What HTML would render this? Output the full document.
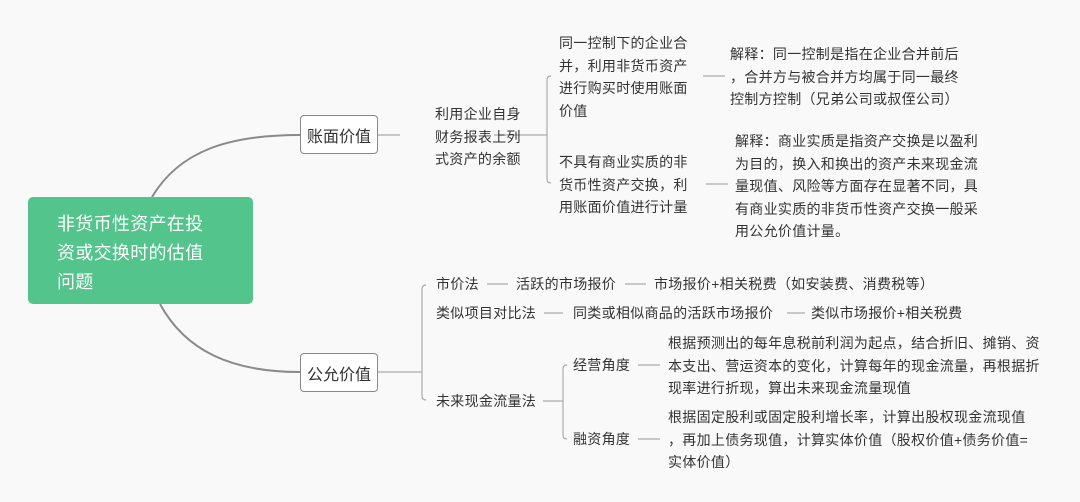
<!DOCTYPE html>
<html><head><meta charset="utf-8"><style>
html,body{margin:0;padding:0;background:#f9f9f9;}
#c{position:relative;width:1080px;height:502px;overflow:hidden;font-family:"Liberation Sans","Noto Sans CJK SC",sans-serif;color:#333;}
.t{position:absolute;font-size:14px;letter-spacing:0.3px;line-height:22.5px;white-space:nowrap;}
.box{position:absolute;background:#fff;border:1px solid #888;border-radius:4px;font-size:16px;display:flex;align-items:center;justify-content:center;box-sizing:border-box;}
svg{position:absolute;left:0;top:0;}
</style></head><body><div id="c">
<svg width="1080" height="502" fill="none">
<path d="M152 197 C 180 150, 230 135, 300 135" stroke="#8a8a8a" stroke-width="2"/>
<path d="M160 304 C 185 350, 230 372, 300 372" stroke="#8a8a8a" stroke-width="2"/>
<g stroke="#aaa" stroke-width="1.2">
<line x1="378" y1="135" x2="400" y2="135"/>
<line x1="494" y1="135" x2="547" y2="135"/>
<path d="M551 76 Q547 76 547 80 L547 179 Q547 183 551 183"/>
<line x1="703" y1="76" x2="725" y2="76"/>
<line x1="706" y1="184" x2="728" y2="184"/>
<line x1="378" y1="372" x2="422" y2="372"/>
<path d="M426 285 Q422 285 422 289 L422 396 Q422 400 426 400"/>
<line x1="487" y1="284" x2="508" y2="284"/>
<line x1="625" y1="284" x2="646" y2="284"/>
<line x1="544" y1="313" x2="563" y2="313"/>
<line x1="787" y1="313" x2="805" y2="313"/>
<line x1="543" y1="401" x2="563" y2="401"/>
<path d="M567 365 Q563 365 563 369 L563 435 Q563 439 567 439"/>
<line x1="638" y1="365" x2="660" y2="365"/>
<line x1="638" y1="439" x2="660" y2="439"/>
</g></svg>
<div style="position:absolute;left:28px;top:197px;width:225px;height:107px;background:#52c48c;border-radius:5px;"></div>
<div class="t" style="left:57px;top:210px;color:#fff;font-size:18px;line-height:29px;letter-spacing:0.3px;">非货币性资产在投<br>资或交换时的估值<br>问题</div>
<div class="box" style="left:300px;top:115px;width:78px;height:39px;">账面价值</div>
<div class="box" style="left:300px;top:353px;width:78px;height:39px;">公允价值</div>
<div class="t" style="left:435px;top:103px;">利用企业自身<br>财务报表上列<br>式资产的余额</div>
<div class="t" style="left:559px;top:32px;">同一控制下的企业合<br>并，利用非货币资产<br>进行购买时使用账面<br>价值</div>
<div class="t" style="left:730px;top:43px;">解释：同一控制是指在企业合并前后<br>，合并方与被合并方均属于同一最终<br>控制方控制（兄弟公司或叔侄公司）</div>
<div class="t" style="left:559px;top:151px;">不具有商业实质的非<br>货币性资产交换，利<br>用账面价值进行计量</div>
<div class="t" style="left:735px;top:130px;">解释：商业实质是指资产交换是以盈利<br>为目的，换入和换出的资产未来现金流<br>量现值、风险等方面存在显著不同，具<br>有商业实质的非货币性资产交换一般采<br>用公允价值计量。</div>
<div class="t" style="left:436px;top:273px;">市价法</div>
<div class="t" style="left:516px;top:273px;">活跃的市场报价</div>
<div class="t" style="left:654px;top:273px;">市场报价+相关税费（如安装费、消费税等）</div>
<div class="t" style="left:436px;top:302px;">类似项目对比法</div>
<div class="t" style="left:573px;top:302px;">同类或相似商品的活跃市场报价</div>
<div class="t" style="left:811px;top:302px;">类似市场报价+相关税费</div>
<div class="t" style="left:436px;top:390px;">未来现金流量法</div>
<div class="t" style="left:573px;top:354px;">经营角度</div>
<div class="t" style="left:573px;top:428px;">融资角度</div>
<div class="t" style="left:668px;top:332px;">根据预测出的每年息税前利润为起点，结合折旧、摊销、资<br>本支出、营运资本的变化，计算每年的现金流量，再根据折<br>现率进行折现，算出未来现金流量现值</div>
<div class="t" style="left:668px;top:406px;">根据固定股利或固定股利增长率，计算出股权现金流现值<br>，再加上债务现值，计算实体价值（股权价值+债务价值=<br>实体价值）</div>
</div></body></html>
